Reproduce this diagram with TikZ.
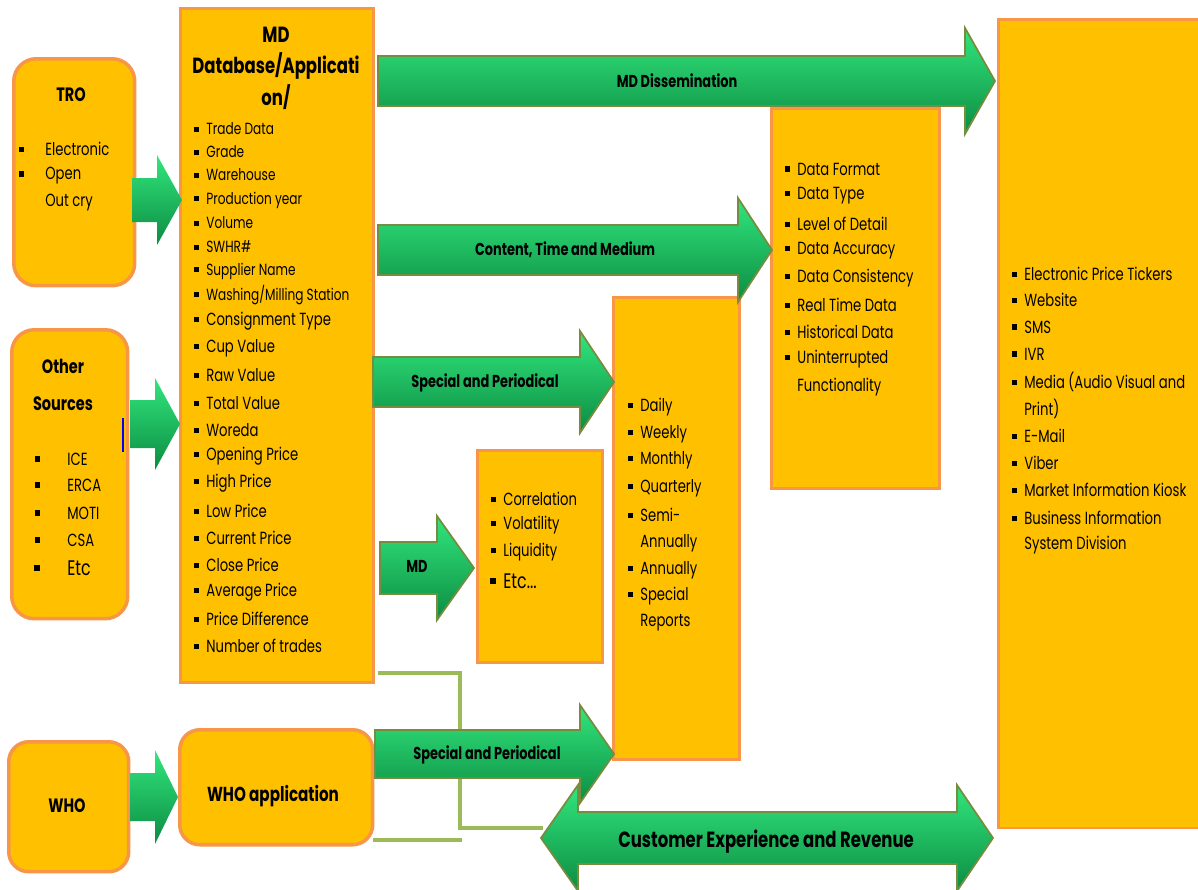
\documentclass[tikz,border=0pt]{standalone}
\usepackage{fontspec}
\setmainfont[FakeStretch=0.75]{Poppins}
\usepackage{tikz}
\usetikzlibrary{positioning}
\definecolor{boxfill}{RGB}{255,192,0}
\definecolor{boxline}{RGB}{247,150,70}
\definecolor{arrgreen}{RGB}{8,186,88}
\definecolor{arrlight}{RGB}{50,230,125}
\definecolor{arrdark}{RGB}{12,140,66}
\definecolor{arredge}{RGB}{118,140,62}
\definecolor{bracketgreen}{RGB}{155,187,89}
\tikzstyle{box} = [rectangle, draw=boxline, fill=boxfill, line width=1.5pt, anchor=north west]
\tikzstyle{roundbox} = [box, line width=2pt, rounded corners=0.45cm]
\tikzstyle{item} = [anchor=west, inner sep=0pt, font=\fontsize{10}{12}\selectfont]
\tikzstyle{smallitem} = [item, font=\fontsize{9.2}{11}\selectfont]
\tikzstyle{title} = [align=center, inner sep=0pt, font=\bfseries\fontsize{11}{13}\selectfont]
\tikzstyle{greenarrow} = [draw=arredge, line width=1pt, top color=arrlight, middle color=arrgreen, bottom color=arrdark]
\tikzstyle{smallarrow} = [draw=none, top color=arrlight, middle color=arrgreen, bottom color=arrdark]
\tikzstyle{arrlabel} = [inner sep=0pt, font=\bfseries\fontsize{9.8}{11}\selectfont]
\tikzstyle{bracket} = [draw=bracketgreen, line width=2.8pt]
% bullet in front of a list line
\newcommand{\itm}[1][0.14cm]{\llap{\rule[0.35ex]{0.55ex}{0.55ex}\hspace{#1}}}
% block arrow: x start, x tip, y middle, half shaft, half head, head length
\newcommand{\blockarrow}[7][greenarrow]{%
  \draw[#1] (#2,{#4-#5}) -- ({#3-#7},{#4-#5}) -- ({#3-#7},{#4-#6}) -- (#3,#4)
    -- ({#3-#7},{#4+#6}) -- ({#3-#7},{#4+#5}) -- (#2,{#4+#5}) -- cycle;}

\begin{document}
\begin{tikzpicture}[x=0.02cm, y=-0.02cm]
  \useasboundingbox (0,0) rectangle (1198,890);
  \clip (0,0) rectangle (1198,890);

  % sources
  \node[roundbox, minimum width=2.42cm, minimum height=4.54cm] (tro) at (12,57) {};
  \node[roundbox, minimum width=2.32cm, minimum height=5.78cm] (other) at (10,328) {};
  \node[roundbox, minimum width=2.40cm, minimum height=2.60cm, rounded corners=0.4cm] (who) at (7,740) {};
  \draw[blue, line width=1pt] (123,418) -- (123,452);

  % main boxes
  \node[box, minimum width=3.86cm, minimum height=13.48cm] (md) at (179,7) {};
  \node[roundbox, minimum width=3.86cm, minimum height=2.30cm, rounded corners=0.4cm] (whoapp) at (178,728) {};
  \node[box, minimum width=2.50cm, minimum height=4.24cm] (calc) at (476,449) {};
  \node[box, minimum width=2.52cm, minimum height=9.24cm] (period) at (612,296) {};
  \node[box, minimum width=3.36cm, minimum height=7.60cm] (quality) at (770,107) {};
  \node[box, minimum width=4.30cm, minimum height=16.18cm] (channel) at (997,18) {};

  % box texts
  \node[title] (trot) at (71,95) {TRO};
  \foreach \y/\t [count=\i] in {149/\itm[0.42cm]Electronic, 176/\itm[0.42cm]Open, 203/Out cry}
    \node[item] (tro\i) at (45,\y) {\t};
  \node[title, font=\bfseries\fontsize{11}{21}\selectfont] (othert) at (63,385) {Other\\Sources};
  \foreach \y/\t [count=\i] in {459/ICE, 485/ERCA, 513/MOTI, 540/CSA}
    \node[item] (other\i) at (67,\y) {\itm[0.54cm]\t};
  \node[item, font=\fontsize{12}{13}\selectfont] (other5) at (67,568) {\itm[0.54cm]Etc};
  \node[title] (whot) at (67,806) {WHO};
  \node[title, font=\bfseries\fontsize{12.5}{18}\selectfont] (mdt) at (276,68) {MD\\Database/Applicati\\on/};
  \foreach \y/\t [count=\i] in {129/Trade Data, 152/Grade, 175/Warehouse, 200/Production year,
      223/Volume, 247/SWHR\#, 271/Supplier Name, 295/{Washing/Milling Station}}
    \node[smallitem] (mda\i) at (206,\y) {\itm\t};
  \foreach \y/\t [count=\i] in {321/Consignment Type, 348/Cup Value, 375/Raw Value, 403/Total Value,
      430/Woreda, 456/Opening Price, 483/High Price, 511/Low Price, 538/Current Price,
      565/Close Price, 592/Average Price, 619/Price Difference, 646/Number of trades}
    \node[item] (mdb\i) at (206,\y) {\itm\t};
  \node[title, font=\bfseries\fontsize{11.5}{13}\selectfont] (whoappt) at (273,796) {WHO application};
  \foreach \y/\t [count=\i] in {499/Correlation, 525/Volatility, 552/Liquidity}
    \node[item] (calc\i) at (503,\y) {\itm\t};
  \node[item, font=\fontsize{12}{13}\selectfont] (calc4) at (503,581) {\itm Etc...};
  \foreach \y/\t [count=\i] in {407/\itm Daily, 434/\itm Weekly, 460/\itm Monthly, 488/\itm Quarterly,
      515/\itm Semi-, 543/Annually, 570/\itm Annually, 596/\itm Special, 623/Reports}
    \node[item] (period\i) at (640,\y) {\t};
  \foreach \y/\t [count=\i] in {169/\itm Data Format, 196/\itm Data Type, 224/\itm Level of Detail,
      251/\itm Data Accuracy, 278/\itm Data Consistency, 305/\itm Real Time Data,
      332/\itm Historical Data, 359/\itm Uninterrupted, 387/Functionality}
    \node[item] (quality\i) at (797,\y) {\t};
  \foreach \y/\t [count=\i] in {274/\itm Electronic Price Tickers, 300/\itm Website, 327/\itm SMS,
      354/\itm IVR, 382/\itm Media  (Audio Visual and, 409/Print), 436/\itm E-Mail, 463/\itm Viber,
      490/\itm Market Information Kiosk, 518/\itm Business Information, 545/System Division}
    \node[item] (channel\i) at (1024,\y) {\t};

  % bracket lines
  \draw[bracket] (378,673) -| (460,828) -- (543,828);
  \draw[bracket] (373,840) -- (462,840);

  % arrows into the boxes
  \blockarrow[smallarrow]{132}{182}{200}{22}{45}{25}
  \blockarrow[smallarrow]{130}{180}{424}{24}{46}{25}
  \blockarrow[smallarrow]{130}{178}{797}{24}{47}{23}

  % arrows out of the boxes
  \blockarrow{378}{995}{81}{25}{53}{30}
  \node[arrlabel] (diss) at (677,81) {MD Dissemination};
  \blockarrow{378}{772}{250}{25}{52}{34}
  \node[arrlabel] (ctm) at (565,250) {Content, Time and Medium};
  \blockarrow{373}{614}{382}{25}{51}{34}
  \node[arrlabel] (sp1) at (485,383) {Special and Periodical};
  \blockarrow{380}{474}{568}{26}{52}{37}
  \node[arrlabel] (mdl) at (417,566) {MD};
  \blockarrow{375}{614}{754}{24}{49}{34}
  \node[arrlabel] (sp2) at (487,755) {Special and Periodical};

  % two way arrow
  \draw[greenarrow] (541,838) -- (578,785) -- (578,812) -- (957,812) -- (957,785) -- (993,838)
    -- (957,891) -- (957,864) -- (578,864) -- (578,891) -- cycle;
  \node[arrlabel, font=\bfseries\fontsize{12.5}{14}\selectfont] (cer) at (766,842) {Customer Experience and Revenue};
\end{tikzpicture}
\end{document}
